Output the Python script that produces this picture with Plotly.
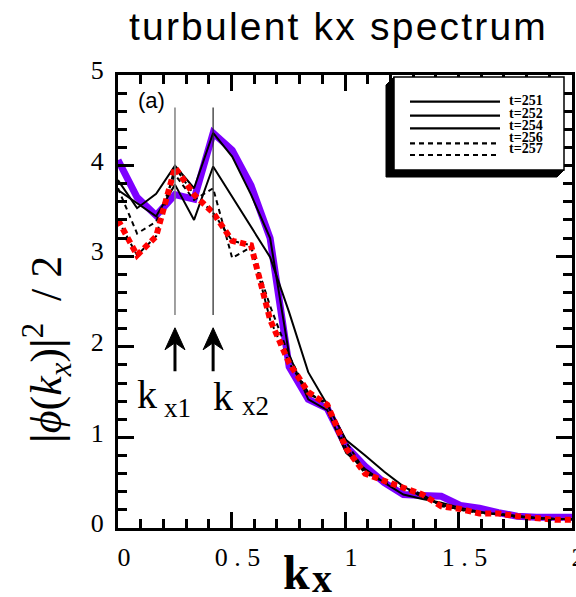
import plotly.graph_objects as go

# ---- data -------------------------------------------------------------
kx = [0.000, 0.084, 0.168, 0.251, 0.335, 0.419, 0.503, 0.586, 0.670, 0.754,
      0.838, 0.922, 1.005, 1.089, 1.173, 1.257, 1.341, 1.424, 1.508, 1.592,
      1.676, 1.759, 1.843, 1.927, 2.011]

phi_t251 = [3.84, 3.53, 3.69, 4.00, 3.75, 4.36, 4.10, 3.68, 3.20, 1.91,
            1.42, 1.30, 0.83, 0.65, 0.50, 0.37, 0.32, 0.28, 0.22, 0.18,
            0.15, 0.13, 0.11, 0.10, 0.10]
phi_t252 = [3.73, 3.58, 3.44, 3.79, 3.40, 3.99, 3.66, 3.33, 2.99, 2.38,
            1.72, 1.36, 0.97, 0.80, 0.62, 0.46, 0.34, 0.26, 0.20, 0.17,
            0.15, 0.13, 0.11, 0.10, 0.10]
phi_t254 = [4.06, 3.65, 3.45, 3.68, 3.63, 4.36, 4.17, 3.78, 3.20, 1.78,
            1.42, 1.32, 0.90, 0.68, 0.50, 0.37, 0.36, 0.35, 0.25, 0.22,
            0.17, 0.13, 0.12, 0.11, 0.12]
phi_t256 = [3.75, 3.25, 3.38, 3.90, 3.62, 3.75, 2.98, 3.10, 2.45, 1.90,
            1.48, 1.38, 0.95, 0.62, 0.50, 0.44, 0.35, 0.26, 0.20, 0.17,
            0.15, 0.12, 0.11, 0.10, 0.09]
phi_t257 = [3.40, 3.01, 3.22, 3.98, 3.68, 3.48, 3.17, 3.12, 2.30, 1.82,
            1.50, 1.36, 0.88, 0.60, 0.52, 0.45, 0.37, 0.24, 0.21, 0.16,
            0.16, 0.13, 0.11, 0.09, 0.09]

series_names = ["t=251", "t=252", "t=254", "t=256", "t=257"]
series_values = [phi_t251, phi_t252, phi_t254, phi_t256, phi_t257]
series_dash = ["solid", "solid", "solid", "5px,4px", "5px,4px"]

x_tickvals = [0, 0.5, 1, 1.5, 2]
x_ticktext = ["0", "0 . 5", "1", "1 . 5", "2"]
y_tickvals = [0, 1, 2, 3, 4, 5]
y_ticktext = ["0", "1", "2", "3", "4", "5"]

kx1 = kx[3]
kx2 = kx[5]

X_RANGE = [0, 2]
Y_RANGE = [0, 5]

# ---- geometry helpers (page pixels -> paper fractions) ----------------
W, H = 576, 597
PL, PR, PT, PB = 118, 572, 75, 528


def fx(px):
    return (px - PL) / (PR - PL)


def fy(py):
    return (PB - py) / (PB - PT)


def data_to_px(x, y):
    px = PL + (x - X_RANGE[0]) / (X_RANGE[1] - X_RANGE[0]) * (PR - PL)
    py = PB - (y - Y_RANGE[0]) / (Y_RANGE[1] - Y_RANGE[0]) * (PB - PT)
    return px, py


def path_from(points):
    cmds = []
    for i, (px, py) in enumerate(points):
        cmds.append(("M" if i == 0 else "L") + f"{fx(px):.5f},{fy(py):.5f}")
    return " ".join(cmds) + " Z"


SERIF = "Liberation Serif"
SANS = "Liberation Sans"

fig = go.Figure()

# t=254 sits under its purple highlight
fig.add_trace(go.Scatter(x=kx, y=phi_t254, mode="lines",
                         line=dict(color="black", width=2),
                         name="t=254", showlegend=False))
fig.add_trace(go.Scatter(x=kx, y=phi_t254, mode="lines",
                         line=dict(color="#7d00ff", width=7),
                         showlegend=False, hoverinfo="skip"))
for i in [0, 1, 3, 4]:
    fig.add_trace(go.Scatter(x=kx, y=series_values[i], mode="lines",
                             line=dict(color="black", width=2, dash=series_dash[i]),
                             name=series_names[i], showlegend=False))
# red highlight over t=257
fig.add_trace(go.Scatter(x=kx, y=phi_t257, mode="lines",
                         line=dict(color="#ff0000", width=6, dash="6px,4px"),
                         showlegend=False, hoverinfo="skip"))

shapes = []
# thin reference lines at the two peaks
shapes.append(dict(type="line", xref="x", yref="y", x0=kx1, x1=kx1, y0=2.35, y1=4.64,
                   line=dict(color="#808080", width=1.5)))
shapes.append(dict(type="line", xref="x", yref="y", x0=kx2, x1=kx2, y0=2.35, y1=4.64,
                   line=dict(color="#222222", width=1.2)))

# upward arrows under the peak lines
for kpos in [kx1, kx2]:
    tx, ty = data_to_px(kpos, 2.21)
    _, tail = data_to_px(kpos, 1.73)
    shapes.append(dict(type="line", xref="paper", yref="paper",
                       x0=fx(tx), x1=fx(tx), y0=fy(ty + 14), y1=fy(tail),
                       line=dict(color="black", width=3)))
    shapes.append(dict(type="path", xref="paper", yref="paper",
                       path=path_from([(tx, ty), (tx + 10, ty + 22), (tx, ty + 15),
                                       (tx - 10, ty + 22)]),
                       fillcolor="black", line=dict(color="black", width=1)))

# legend box with extruded shadow
shapes.append(dict(type="path", xref="paper", yref="paper", layer="above",
                   path=path_from([(394, 77), (386, 85), (386, 177), (557, 177),
                                   (564, 170), (394, 170)]),
                   fillcolor="black", line=dict(color="black", width=1)))
shapes.append(dict(type="rect", xref="paper", yref="paper", layer="above",
                   x0=fx(394), x1=fx(564), y0=fy(170), y1=fy(77),
                   fillcolor="white", line=dict(color="black", width=1.5)))

legend_line_y = [101.7, 115.7, 128.3, 143.3, 155.0]
legend_text_y = [100.5, 113.0, 125.0, 137.0, 149.0]
annotations = []
for i, name in enumerate(series_names):
    shapes.append(dict(type="line", xref="paper", yref="paper", layer="above",
                       x0=fx(410), x1=fx(500), y0=fy(legend_line_y[i]), y1=fy(legend_line_y[i]),
                       line=dict(color="black", width=2.2, dash=series_dash[i])))
    annotations.append(dict(text=f"<b>{name}</b>", xref="paper", yref="paper",
                            x=fx(507), y=fy(legend_text_y[i]), xanchor="left", yanchor="middle",
                            showarrow=False, font=dict(family=SERIF, size=14, color="black")))

# title
annotations.append(dict(text='<span style="letter-spacing:2.2px">turbulent kx spectrum</span>',
                        xref="paper", yref="paper", x=fx(338), y=fy(27),
                        xanchor="center", yanchor="middle", showarrow=False,
                        font=dict(family=SANS, size=39, color="black")))
# panel tag
annotations.append(dict(text="(a)", xref="paper", yref="paper", x=fx(151.5), y=fy(101),
                        xanchor="center", yanchor="middle", showarrow=False,
                        font=dict(family=SANS, size=22, color="black")))
# y axis title
annotations.append(dict(text="<b>|</b><i>ϕ</i>(<i>k</i><sub><i>x</i></sub>)<b>|</b><sup>2</sup>  / 2",
                        xref="paper", yref="paper", x=fx(47), y=fy(350),
                        xanchor="center", yanchor="middle", textangle=-90, showarrow=False,
                        font=dict(family=SERIF, size=44, color="black")))
# x axis title
annotations.append(dict(text="<b>k</b>", xref="paper", yref="paper", x=fx(296.5), y=fy(572),
                        xanchor="center", yanchor="middle", showarrow=False,
                        font=dict(family=SERIF, size=48, color="black")))
annotations.append(dict(text="<b>x</b>", xref="paper", yref="paper", x=fx(322), y=fy(578),
                        xanchor="center", yanchor="middle", showarrow=False,
                        font=dict(family=SERIF, size=40, color="black")))
# peak labels
for kcx, kcy, scx, scy, sub in [(147, 394.6, 177.5, 408, "x1"), (222.5, 396.6, 255.5, 406, "x2")]:
    annotations.append(dict(text="k", xref="paper", yref="paper", x=fx(kcx), y=fy(kcy),
                            xanchor="center", yanchor="middle", showarrow=False,
                            font=dict(family=SERIF, size=40, color="black")))
    annotations.append(dict(text=sub, xref="paper", yref="paper", x=fx(scx), y=fy(scy),
                            xanchor="center", yanchor="middle", showarrow=False,
                            font=dict(family=SERIF, size=27, color="black")))

axis_common = dict(showline=True, linewidth=3, linecolor="black", mirror="ticks",
                   ticks="inside", ticklen=16, tickwidth=2.5, tickcolor="black",
                   showgrid=False, zeroline=False, automargin=False,
                   ticklabeloverflow="allow",
                   tickfont=dict(family=SERIF, size=26, color="black"))

fig.update_layout(
    width=W, height=H,
    margin=dict(l=PL, r=W - PR, t=PT, b=H - PB),
    template="none",
    paper_bgcolor="white", plot_bgcolor="white",
    showlegend=False,
    xaxis=dict(range=X_RANGE, tickvals=x_tickvals, ticktext=x_ticktext,
               minor=dict(dtick=0.1, tick0=0, ticklen=9, tickwidth=2.5,
                          ticks="inside", tickcolor="black"),
               ticklabelstandoff=4, ticklabelshift=6, **axis_common),
    yaxis=dict(range=Y_RANGE, tickvals=y_tickvals, ticktext=y_ticktext,
               minor=dict(dtick=0.2, tick0=0, ticklen=9, tickwidth=2.5,
                          ticks="inside", tickcolor="black"),
               ticklabelstandoff=6, ticklabelshift=-5, **axis_common),
    shapes=shapes,
    annotations=annotations,
)

fig.write_html("out.html")
